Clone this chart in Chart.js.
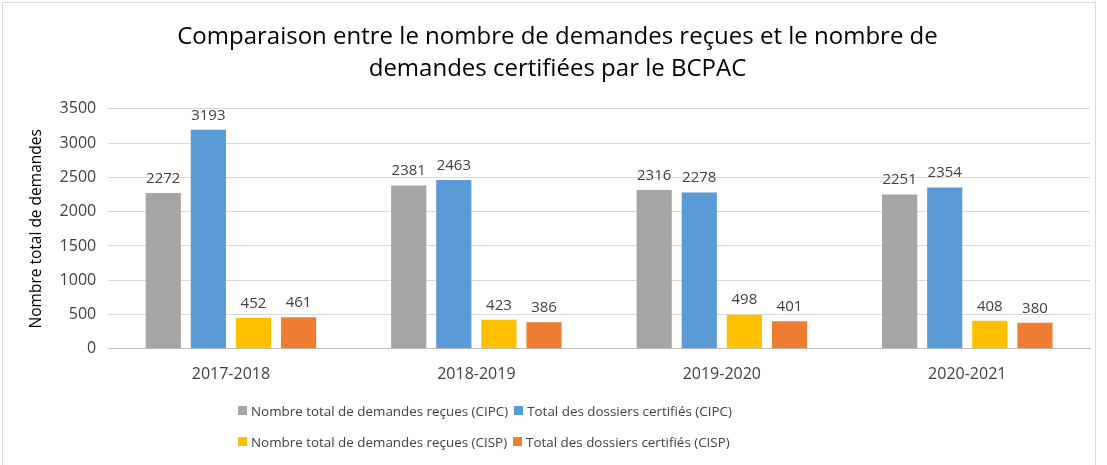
<!DOCTYPE html>
<html>
<head>
<meta charset="utf-8">
<script src="https://cdn.jsdelivr.net/npm/chart.js@4"></script>
<style>
  body { margin: 0; background: #fff; }
  #wrap { position: relative; width: 1107px; height: 465px; }
  #frame { position: absolute; left: 2px; top: 2px; width: 1094px; height: 470px; border: 1px solid #d9d9d9; box-sizing: border-box; }
  #legend { position: absolute; left: 238px; top: 395px; font-family: "Open Sans", sans-serif; font-size: 13.4px; color: #404040; }
  .row { display: flex; height: 31px; align-items: center; }
  .item { display: flex; align-items: center; margin-right: 6px; white-space: nowrap; }
  .box { width: 9px; height: 9px; margin-right: 4px; }
</style>
</head>
<body>
<div id="wrap">
  <div id="frame"></div>
  <canvas id="myChart" width="1107" height="465"></canvas>
  <div id="legend"></div>
</div>
<script>
var years = ["2017-2018", "2018-2019", "2019-2020", "2020-2021"];
var recuesCIPC = [2272, 2381, 2316, 2251];
var certifCIPC = [3193, 2463, 2278, 2354];
var recuesCISP = [452, 423, 498, 408];
var certifCISP = [461, 386, 401, 380];
var yTicks = [0, 500, 1000, 1500, 2000, 2500, 3000, 3500];

var seriesNames = [
  "Nombre total de demandes reçues (CIPC)",
  "Total des dossiers certifiés (CIPC)",
  "Nombre total de demandes reçues (CISP)",
  "Total des dossiers certifiés (CISP)"
];
var colors = ["#a5a5a5", "#5b9bd5", "#ffc000", "#ed7d31"];
var font = "'Open Sans', sans-serif";

// draws the value above each bar
var valueLabels = {
  id: "valueLabels",
  afterDatasetsDraw(chart) {
    var c = chart.ctx;
    c.save();
    c.font = "15px " + font;
    c.fillStyle = "#404040";
    c.textAlign = "center";
    c.textBaseline = "bottom";
    chart.data.datasets.forEach((ds, i) => {
      chart.getDatasetMeta(i).data.forEach((bar, j) => {
        c.fillText(ds.data[j], bar.x, bar.y - 7);
      });
    });
    c.restore();
  }
};

window.addEventListener("load", function () {
  var ctx = document.getElementById("myChart");
  var data = [recuesCIPC, certifCIPC, recuesCISP, certifCISP];
  var chart = new Chart(ctx, {
    type: "bar",
    data: {
      labels: years,
      datasets: data.map((d, i) => ({
        label: seriesNames[i],
        data: d,
        backgroundColor: colors[i],
        categoryPercentage: 0.735,
        barPercentage: 0.78
      }))
    },
    options: {
      responsive: false,
      animation: false,
      layout: { padding: { left: 25, right: 17, top: 0, bottom: 73 } },
      plugins: {
        legend: { display: false },
        tooltip: { enabled: false },
        title: {
          display: true,
          text: ["Comparaison entre le nombre de demandes reçues et le nombre de", "demandes certifiées par le BCPAC"],
          font: { family: font, size: 24, weight: "normal", lineHeight: 1.35 },
          color: "#000",
          padding: { top: 21, bottom: 23 }
        }
      },
      scales: {
        x: {
          grid: { display: false },
          border: { color: "#bfbfbf" },
          ticks: { font: { family: font, size: 16 }, color: "#404040", padding: 8 }
        },
        y: {
          min: 0,
          max: 3500,
          afterBuildTicks(axis) { axis.ticks = yTicks.map(v => ({ value: v })); },
          grid: { color: "#d9d9d9", drawTicks: false },
          border: { display: false },
          ticks: { font: { family: font, size: 16 }, color: "#404040", padding: 12, callback: v => String(v) },
          title: { display: true, text: "Nombre total de demandes", font: { family: font, size: 15.5 }, color: "#000", padding: 2 }
        }
      }
    },
    plugins: [valueLabels]
  });

  var legend = document.getElementById("legend");
  [[0, 1], [2, 3]].forEach(pair => {
    var row = document.createElement("div");
    row.className = "row";
    pair.forEach(i => {
      var it = document.createElement("div");
      it.className = "item";
      var b = document.createElement("span");
      b.className = "box";
      b.style.background = colors[i];
      var t = document.createElement("span");
      t.textContent = seriesNames[i];
      it.appendChild(b);
      it.appendChild(t);
      row.appendChild(it);
    });
    legend.appendChild(row);
  });
});
</script>
</body>
</html>
